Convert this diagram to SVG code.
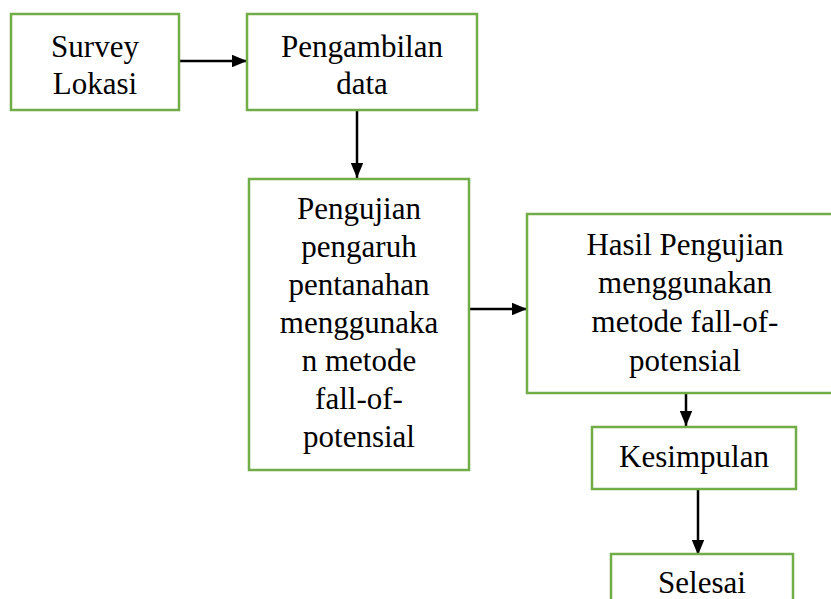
<svg xmlns="http://www.w3.org/2000/svg" width="831" height="599" viewBox="0 0 831 599">
<style>
.box{fill:#fff;stroke:#70AD47;stroke-width:2.5}
.t{font-family:"Liberation Serif","Times New Roman",serif;font-size:31px;fill:#000;text-anchor:middle}
.c{stroke:#000;stroke-width:2.5;fill:none;marker-end:url(#ah)}
</style>
<defs>
<marker id="ah" markerWidth="6" markerHeight="5" refX="6" refY="2.5" orient="auto" markerUnits="strokeWidth">
<path d="M0,0 L6,2.5 L0,5 Z" fill="#000"/>
</marker>
</defs>
<rect width="831" height="599" fill="#fff"/>
<g id="connectors">
<line class="c" x1="179" y1="61" x2="247" y2="61"/>
<line class="c" x1="357" y1="110" x2="357" y2="178"/>
<line class="c" x1="469" y1="309" x2="527" y2="309"/>
<line class="c" x1="686" y1="393" x2="686" y2="426"/>
<line class="c" x1="698" y1="489" x2="698" y2="555"/>
</g>
<g id="survey">
<rect class="box" x="11" y="14" width="168" height="96"/>
<text class="t" x="95" y="57">Survey</text>
<text class="t" x="95" y="94">Lokasi</text>
</g>
<g id="pengambilan">
<rect class="box" x="247" y="14" width="230" height="96"/>
<text class="t" x="362" y="57">Pengambilan</text>
<text class="t" x="362" y="94">data</text>
</g>
<g id="pengujian">
<rect class="box" x="249" y="179" width="220" height="291"/>
<text class="t" x="359" y="219">Pengujian</text>
<text class="t" x="359" y="257">pengaruh</text>
<text class="t" x="359" y="295">pentanahan</text>
<text class="t" x="359" y="333">menggunaka</text>
<text class="t" x="359" y="371">n metode</text>
<text class="t" x="359" y="409">fall-of-</text>
<text class="t" x="359" y="447">potensial</text>
</g>
<g id="hasil">
<rect class="box" x="527" y="214" width="320" height="179"/>
<text class="t" x="685" y="255">Hasil Pengujian</text>
<text class="t" x="685" y="293">menggunakan</text>
<text class="t" x="685" y="332">metode fall-of-</text>
<text class="t" x="685" y="371">potensial</text>
</g>
<g id="kesimpulan">
<rect class="box" x="592" y="427" width="204" height="62"/>
<text class="t" x="694" y="467">Kesimpulan</text>
</g>
<g id="selesai">
<rect class="box" x="611" y="554" width="182" height="70"/>
<text class="t" x="702" y="593">Selesai</text>
</g>
</svg>
